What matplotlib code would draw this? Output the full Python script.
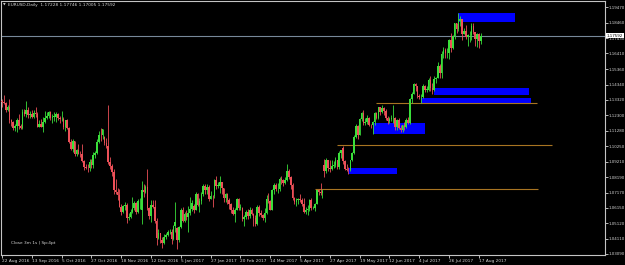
from matplotlib import pyplot as plt
from matplotlib.patches import Rectangle
import numpy as np

header = 'EURUSD,Daily  1.17228 1.17746 1.17005 1.17592'
footer = 'Close 3m 1s | Sp:4pt'

# Daily bars, 22 Aug 2016 .. 18 Aug 2017
opens = [
    1.1324, 1.1319, 1.1309, 1.1265, 1.1285, 1.1198, 1.1187, 1.1146, 1.1158, 1.1196,
    1.1156, 1.1147, 1.1254, 1.1239, 1.1262, 1.1233, 1.1240, 1.1219, 1.1246, 1.1240,
    1.1155, 1.1170, 1.1153, 1.1188, 1.1210, 1.1225, 1.1250, 1.1213, 1.1220, 1.1221,
    1.1240, 1.1209, 1.1202, 1.1205, 1.1153, 1.1201, 1.1145, 1.1055, 1.1006, 1.1056,
    1.0971, 1.1000, 1.0975, 1.0972, 1.0928, 1.0885, 1.0882, 1.0877, 1.0917, 1.0899,
    1.0963, 1.0982, 1.1053, 1.1099, 1.1097, 1.1085, 1.1045, 1.1026, 1.0917, 1.0895,
    1.0855, 1.0735, 1.0723, 1.0700, 1.0624, 1.0589, 1.0627, 1.0632, 1.0551, 1.0555,
    1.0589, 1.0616, 1.0647, 1.0586, 1.0662, 1.0600, 1.0731, 1.0718, 1.0755, 1.0616,
    1.0559, 1.0636, 1.0624, 1.0530, 1.0413, 1.0447, 1.0400, 1.0384, 1.0424, 1.0435,
    1.0454, 1.0456, 1.0409, 1.0493, 1.0480, 1.0404, 1.0489, 1.0604, 1.0530, 1.0575,
    1.0555, 1.0583, 1.0611, 1.0630, 1.0604, 1.0710, 1.0632, 1.0663, 1.0705, 1.0762,
    1.0732, 1.0753, 1.0677, 1.0697, 1.0692, 1.0798, 1.0762, 1.0762, 1.0785, 1.0746,
    1.0683, 1.0706, 1.0666, 1.0640, 1.0598, 1.0573, 1.0600, 1.0677, 1.0616, 1.0617,
    1.0540, 1.0557, 1.0586, 1.0562, 1.0604, 1.0573, 1.0546, 1.0506, 1.0622, 1.0584,
    1.0569, 1.0546, 1.0580, 1.0672, 1.0658, 1.0604, 1.0732, 1.0765, 1.0738, 1.0741,
    1.0810, 1.0797, 1.0781, 1.0798, 1.0863, 1.0817, 1.0767, 1.0678, 1.0651, 1.0666,
    1.0673, 1.0665, 1.0644, 1.0591, 1.0601, 1.0610, 1.0665, 1.0613, 1.0615, 1.0642,
    1.0731, 1.0718, 1.0715, 1.0900, 1.0857, 1.0930, 1.0881, 1.0873, 1.0895, 1.0903,
    1.0930, 1.0884, 1.0982, 1.1010, 1.0925, 1.0874, 1.0869, 1.0864, 1.0932, 1.0981,
    1.1088, 1.1159, 1.1102, 1.1206, 1.1243, 1.1181, 1.1184, 1.1211, 1.1165, 1.1163,
    1.1184, 1.1246, 1.1213, 1.1282, 1.1252, 1.1280, 1.1258, 1.1212, 1.1195, 1.1207,
    1.1211, 1.1214, 1.1150, 1.1197, 1.1145, 1.1131, 1.1166, 1.1151, 1.1196, 1.1181,
    1.1336, 1.1373, 1.1440, 1.1426, 1.1360, 1.1349, 1.1349, 1.1423, 1.1400, 1.1400,
    1.1467, 1.1411, 1.1396, 1.1470, 1.1479, 1.1557, 1.1514, 1.1634, 1.1666, 1.1642,
    1.1646, 1.1730, 1.1677, 1.1754, 1.1842, 1.1802, 1.1859, 1.1867, 1.1773, 1.1791,
    1.1752, 1.1760, 1.1764, 1.1822, 1.1780, 1.1734, 1.1773, 1.17228]

highs = [
    1.1339, 1.1366, 1.1318, 1.1298, 1.1341, 1.1202, 1.1191, 1.1170, 1.1209, 1.1239,
    1.1175, 1.1269, 1.1272, 1.1327, 1.1285, 1.1258, 1.1262, 1.1268, 1.1283, 1.1249,
    1.1200, 1.1203, 1.1217, 1.1257, 1.1253, 1.1260, 1.1259, 1.1241, 1.1255, 1.1249,
    1.1248, 1.1227, 1.1256, 1.1218, 1.1201, 1.1203, 1.1155, 1.1074, 1.1075, 1.1060,
    1.1006, 1.1038, 1.0996, 1.1040, 1.0935, 1.0904, 1.0909, 1.0942, 1.0938, 1.0986,
    1.0995, 1.1074, 1.1123, 1.1143, 1.1142, 1.1090, 1.1081, 1.1300, 1.0950, 1.0907,
    1.0874, 1.0805, 1.0745, 1.0740, 1.0638, 1.0637, 1.0655, 1.0647, 1.0578, 1.0611,
    1.0686, 1.0661, 1.0655, 1.0676, 1.0679, 1.0796, 1.0775, 1.0766, 1.0874, 1.0622,
    1.0668, 1.0669, 1.0667, 1.0546, 1.0473, 1.0451, 1.0420, 1.0439, 1.0449, 1.0467,
    1.0472, 1.0475, 1.0500, 1.0653, 1.0485, 1.0496, 1.0615, 1.0621, 1.0585, 1.0604,
    1.0630, 1.0685, 1.0670, 1.0643, 1.0720, 1.0715, 1.0681, 1.0720, 1.0775, 1.0773,
    1.0776, 1.0768, 1.0725, 1.0700, 1.0810, 1.0829, 1.0790, 1.0829, 1.0786, 1.0750,
    1.0716, 1.0711, 1.0680, 1.0647, 1.0620, 1.0612, 1.0679, 1.0679, 1.0640, 1.0621,
    1.0569, 1.0600, 1.0605, 1.0620, 1.0617, 1.0579, 1.0565, 1.0632, 1.0631, 1.0600,
    1.0573, 1.0615, 1.0699, 1.0714, 1.0669, 1.0741, 1.0782, 1.0780, 1.0778, 1.0819,
    1.0827, 1.0806, 1.0819, 1.0906, 1.0876, 1.0826, 1.0778, 1.0690, 1.0679, 1.0683,
    1.0706, 1.0683, 1.0679, 1.0619, 1.0631, 1.0677, 1.0678, 1.0630, 1.0650, 1.0737,
    1.0740, 1.0778, 1.0740, 1.0938, 1.0948, 1.0935, 1.0932, 1.0936, 1.0927, 1.0951,
    1.0935, 1.0991, 1.1000, 1.1023, 1.0932, 1.0907, 1.0885, 1.0935, 1.0988, 1.1096,
    1.1171, 1.1163, 1.1212, 1.1251, 1.1268, 1.1215, 1.1229, 1.1218, 1.1173, 1.1194,
    1.1251, 1.1255, 1.1285, 1.1286, 1.1296, 1.1283, 1.1269, 1.1225, 1.1221, 1.1230,
    1.1296, 1.1216, 1.1206, 1.1212, 1.1167, 1.1167, 1.1187, 1.1212, 1.1218, 1.1348,
    1.1387, 1.1445, 1.1446, 1.1426, 1.1370, 1.1372, 1.1437, 1.1432, 1.1424, 1.1480,
    1.1490, 1.1442, 1.1488, 1.1484, 1.1583, 1.1568, 1.1658, 1.1683, 1.1679, 1.1677,
    1.1735, 1.1777, 1.1762, 1.1846, 1.1846, 1.1910, 1.1892, 1.1872, 1.1808, 1.1828,
    1.1773, 1.1787, 1.1846, 1.1846, 1.1785, 1.1779, 1.1779, 1.17746]

lows = [
    1.1287, 1.1302, 1.1252, 1.1256, 1.1182, 1.1158, 1.1134, 1.1123, 1.1122, 1.1140,
    1.1136, 1.1137, 1.1225, 1.1220, 1.1210, 1.1211, 1.1211, 1.1209, 1.1220, 1.1149,
    1.1150, 1.1150, 1.1122, 1.1182, 1.1202, 1.1215, 1.1200, 1.1179, 1.1189, 1.1186,
    1.1196, 1.1176, 1.1195, 1.1137, 1.1126, 1.1139, 1.1047, 1.0998, 1.0989, 1.0962,
    1.0960, 1.0971, 1.0956, 1.0917, 1.0866, 1.0871, 1.0852, 1.0859, 1.0883, 1.0881,
    1.0947, 1.0971, 1.1044, 1.1058, 1.1071, 1.1030, 1.1011, 1.0905, 1.0870, 1.0825,
    1.0710, 1.0709, 1.0666, 1.0618, 1.0569, 1.0584, 1.0603, 1.0518, 1.0535, 1.0547,
    1.0582, 1.0600, 1.0572, 1.0581, 1.0608, 1.0505, 1.0690, 1.0715, 1.0600, 1.0540,
    1.0523, 1.0614, 1.0514, 1.0366, 1.0408, 1.0379, 1.0352, 1.0375, 1.0406, 1.0427,
    1.0443, 1.0375, 1.0403, 1.0455, 1.0340, 1.0389, 1.0484, 1.0524, 1.0521, 1.0534,
    1.0454, 1.0568, 1.0592, 1.0578, 1.0600, 1.0627, 1.0587, 1.0643, 1.0695, 1.0707,
    1.0706, 1.0660, 1.0672, 1.0618, 1.0680, 1.0740, 1.0745, 1.0715, 1.0709, 1.0655,
    1.0654, 1.0641, 1.0611, 1.0584, 1.0568, 1.0521, 1.0599, 1.0600, 1.0598, 1.0527,
    1.0494, 1.0542, 1.0540, 1.0546, 1.0565, 1.0494, 1.0495, 1.0499, 1.0562, 1.0555,
    1.0537, 1.0524, 1.0573, 1.0649, 1.0601, 1.0600, 1.0705, 1.0727, 1.0715, 1.0729,
    1.0775, 1.0761, 1.0772, 1.0791, 1.0808, 1.0742, 1.0670, 1.0642, 1.0630, 1.0640,
    1.0651, 1.0629, 1.0581, 1.0577, 1.0570, 1.0595, 1.0600, 1.0605, 1.0595, 1.0638,
    1.0698, 1.0698, 1.0683, 1.0821, 1.0849, 1.0859, 1.0851, 1.0866, 1.0882, 1.0887,
    1.0873, 1.0874, 1.0945, 1.0907, 1.0866, 1.0863, 1.0838, 1.0860, 1.0926, 1.0971,
    1.1078, 1.1075, 1.1101, 1.1189, 1.1165, 1.1167, 1.1172, 1.1160, 1.1145, 1.1109,
    1.1165, 1.1208, 1.1207, 1.1232, 1.1243, 1.1230, 1.1197, 1.1175, 1.1181, 1.1190,
    1.1180, 1.1131, 1.1135, 1.1136, 1.1119, 1.1118, 1.1134, 1.1146, 1.1175, 1.1173,
    1.1313, 1.1371, 1.1389, 1.1344, 1.1335, 1.1312, 1.1348, 1.1384, 1.1383, 1.1390,
    1.1392, 1.1374, 1.1390, 1.1446, 1.1477, 1.1480, 1.1480, 1.1613, 1.1611, 1.1612,
    1.1604, 1.1649, 1.1667, 1.1734, 1.1778, 1.1790, 1.1825, 1.1729, 1.1772, 1.1738,
    1.1688, 1.1716, 1.1730, 1.1773, 1.1688, 1.1681, 1.1680, 1.17005]

closes = [
    1.1319, 1.1309, 1.1265, 1.1285, 1.1198, 1.1187, 1.1146, 1.1158, 1.1196, 1.1156,
    1.1147, 1.1254, 1.1239, 1.1262, 1.1233, 1.1240, 1.1219, 1.1246, 1.1240, 1.1155,
    1.1170, 1.1153, 1.1188, 1.1210, 1.1225, 1.1250, 1.1213, 1.1220, 1.1221, 1.1240,
    1.1209, 1.1202, 1.1205, 1.1153, 1.1201, 1.1145, 1.1055, 1.1006, 1.1056, 1.0971,
    1.1000, 1.0975, 1.0972, 1.0928, 1.0885, 1.0882, 1.0877, 1.0917, 1.0899, 1.0963,
    1.0982, 1.1053, 1.1099, 1.1097, 1.1138, 1.1045, 1.1026, 1.0917, 1.0895, 1.0855,
    1.0735, 1.0723, 1.0700, 1.0624, 1.0589, 1.0627, 1.0632, 1.0551, 1.0555, 1.0589,
    1.0616, 1.0647, 1.0586, 1.0662, 1.0662, 1.0731, 1.0718, 1.0755, 1.0616, 1.0559,
    1.0636, 1.0624, 1.0530, 1.0413, 1.0447, 1.0400, 1.0384, 1.0424, 1.0435, 1.0454,
    1.0456, 1.0409, 1.0493, 1.0520, 1.0404, 1.0489, 1.0604, 1.0530, 1.0575, 1.0555,
    1.0583, 1.0611, 1.0645, 1.0604, 1.0710, 1.0632, 1.0663, 1.0705, 1.0762, 1.0732,
    1.0753, 1.0677, 1.0697, 1.0692, 1.0798, 1.0762, 1.0762, 1.0785, 1.0746, 1.0683,
    1.0706, 1.0666, 1.0640, 1.0598, 1.0573, 1.0600, 1.0677, 1.0616, 1.0617, 1.0540,
    1.0557, 1.0586, 1.0562, 1.0604, 1.0573, 1.0546, 1.0506, 1.0622, 1.0584, 1.0569,
    1.0546, 1.0580, 1.0672, 1.0658, 1.0604, 1.0732, 1.0765, 1.0738, 1.0741, 1.0810,
    1.0797, 1.0781, 1.0798, 1.0863, 1.0817, 1.0767, 1.0678, 1.0651, 1.0666, 1.0673,
    1.0665, 1.0644, 1.0591, 1.0601, 1.0610, 1.0665, 1.0613, 1.0615, 1.0642, 1.0731,
    1.0718, 1.0715, 1.0726, 1.0857, 1.0930, 1.0881, 1.0873, 1.0895, 1.0903, 1.0930,
    1.0884, 1.0982, 1.0998, 1.0925, 1.0874, 1.0869, 1.0864, 1.0932, 1.0981, 1.1088,
    1.1159, 1.1102, 1.1206, 1.1243, 1.1181, 1.1184, 1.1211, 1.1165, 1.1163, 1.1184,
    1.1246, 1.1213, 1.1282, 1.1252, 1.1280, 1.1258, 1.1212, 1.1195, 1.1207, 1.1211,
    1.1214, 1.1150, 1.1197, 1.1145, 1.1131, 1.1166, 1.1151, 1.1196, 1.1181, 1.1336,
    1.1373, 1.1440, 1.1426, 1.1360, 1.1349, 1.1349, 1.1423, 1.1400, 1.1400, 1.1467,
    1.1411, 1.1396, 1.1470, 1.1479, 1.1557, 1.1514, 1.1634, 1.1666, 1.1642, 1.1646,
    1.1730, 1.1677, 1.1754, 1.1842, 1.1802, 1.1859, 1.1867, 1.1773, 1.1791, 1.1752,
    1.1760, 1.1764, 1.1822, 1.1780, 1.1734, 1.1773, 1.1723, 1.17592]

date_labels = ['22 Aug 2016', '13 Sep 2016', '5 Oct 2016', '27 Oct 2016',
               '18 Nov 2016', '12 Dec 2016', '5 Jan 2017', '27 Jan 2017',
               '20 Feb 2017', '14 Mar 2017', '5 Apr 2017', '27 Apr 2017',
               '19 May 2017', '12 Jun 2017', '4 Jul 2017', '26 Jul 2017',
               '17 Aug 2017']
date_label_bars = [0, 16, 32, 48, 64, 80, 96, 112, 128, 144, 160, 176,
                   192, 208, 224, 240, 256]

price_ticks = [1.03090, 1.04110, 1.05120, 1.06150, 1.07170, 1.08190, 1.09210,
               1.10250, 1.11280, 1.12300, 1.13320, 1.14340, 1.15360, 1.16410,
               1.17430, 1.18460, 1.19470]

# supply / demand boxes (bar index range, price range)
zone_start = [245, 232, 225, 199, 186]
zone_end = [275.5, 283, 284, 227, 212]
zone_top = [1.1907, 1.1409, 1.1343, 1.1177, 1.0878]
zone_bottom = [1.1847, 1.1363, 1.1310, 1.1104, 1.0838]

# horizontal levels
level_price = [1.1310, 1.1031, 1.0739]
level_start = [201, 180, 168]
level_end = [287, 295, 288]

bull_color = '#3ade3a'
bear_color = '#ec5058'
fg = '#d6d6d6'


def main():
    fig = plt.figure(figsize=(6.25, 2.65), dpi=100, facecolor='black')
    ax = fig.add_axes([1 / 625, 10 / 265, 604 / 625, 254 / 265])
    ax.set_facecolor('black')

    o = np.array(opens)
    h = np.array(highs)
    l = np.array(lows)
    c = np.array(closes)
    x = np.arange(len(c))
    colors = np.where(c >= o, bull_color, bear_color)

    for start, end, top, bottom in zip(zone_start, zone_end, zone_top, zone_bottom):
        ax.add_patch(Rectangle((start, bottom), end - start, top - bottom,
                               facecolor='#0000ff', edgecolor='none', zorder=1))

    ax.hlines(level_price, level_start, level_end, color='#a87422', linewidth=0.8, zorder=1)
    ax.axhline(c[-1], color='#778899', linewidth=0.8, zorder=1)

    ax.vlines(x, l, h, colors=colors, linewidth=0.6, zorder=2)
    ax.bar(x, np.maximum(np.abs(c - o), 0.0002), bottom=np.minimum(o, c),
           width=0.85, color=colors, linewidth=0, zorder=3)

    ax.set_xlim(-0.54, 323.7)
    ax.set_ylim(1.03023, 1.19888)

    for side in ax.spines:
        ax.spines[side].set_color('#c4c4c4')
        ax.spines[side].set_linewidth(0.8)

    ax.yaxis.tick_right()
    ax.set_yticks(price_ticks)
    ax.set_yticklabels([f'{p:.5f}' for p in price_ticks])
    ax.set_xticks(date_label_bars)
    ax.set_xticklabels(date_labels)
    plt.setp(ax.get_xticklabels(), ha='left')
    ax.tick_params(axis='x', colors=fg, labelsize=3.1, length=2, width=0.6, pad=1)
    ax.tick_params(axis='y', colors=fg, labelsize=2.9, length=1.8, width=0.6, pad=0.8)

    ax.annotate(f'{c[-1]:.5f}', xy=(1.0, c[-1]), xycoords=('axes fraction', 'data'),
                xytext=(1.2, 0), textcoords='offset points', ha='left', va='center',
                fontsize=2.9, color='black', annotation_clip=False, zorder=10,
                bbox=dict(boxstyle='square,pad=0.2', facecolor='white', edgecolor='none'))

    fig.text(3 / 625, 1 - 5 / 265, '\u25bc', color=fg, fontsize=2.5, va='center')
    fig.text(8 / 625, 1 - 5 / 265, header, color=fg, fontsize=3.1, va='center')
    fig.text(11 / 625, 1 - 243 / 265, footer, color=fg, fontsize=3.1, va='center')

    fig.savefig('out.png', dpi=100, facecolor='black')
    plt.close(fig)


if __name__ == '__main__':
    main()
